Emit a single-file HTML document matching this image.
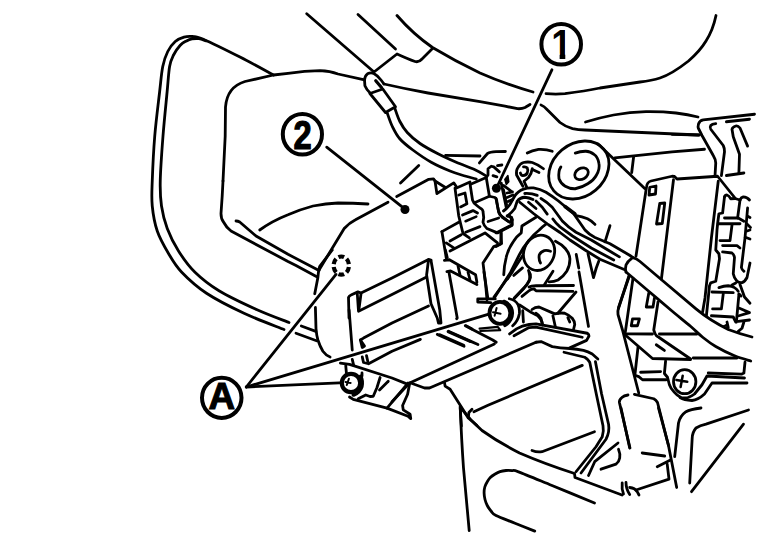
<!DOCTYPE html>
<html><head><meta charset="utf-8"><title>Diagram</title>
<style>
html,body{margin:0;padding:0;background:#fff;}
svg{display:block;}
.l{fill:none;stroke:#000;stroke-width:2.8;stroke-linecap:round;stroke-linejoin:round;}
.t{fill:none;stroke:#000;stroke-width:1.5;stroke-linecap:round;stroke-linejoin:round;}
.w{fill:#fff;stroke:#000;stroke-width:2;stroke-linecap:round;stroke-linejoin:round;}
text{font-family:"Liberation Sans",sans-serif;font-weight:bold;fill:#000;}
</style></head><body>
<svg width="768" height="544" viewBox="0 0 768 544">
<rect width="768" height="544" fill="#fff"/>
<!-- SECTION: outer trim -->
<g class="l">
<path d="M273.50 75.00 C267.92 72.02 251.79 63.10 240.00 57.10 C228.21 51.10 210.62 42.43 202.75 39.00 C194.88 35.57 195.88 36.82 192.75 36.50 C189.62 36.18 186.92 36.27 184.00 37.10 C181.08 37.93 177.96 39.10 175.25 41.50 C172.54 43.90 169.83 47.33 167.75 51.50 C165.67 55.67 164.11 59.75 162.75 66.50 C161.39 73.25 160.93 80.42 159.60 92.00 C158.27 103.58 155.97 121.17 154.75 136.00 C153.53 150.83 152.67 169.33 152.25 181.00 C151.83 192.67 151.42 197.67 152.25 206.00 C153.08 214.33 154.54 223.08 157.25 231.00 C159.96 238.92 164.46 246.67 168.50 253.50 C172.54 260.33 175.17 265.38 181.50 272.00 C187.83 278.62 196.08 286.38 206.50 293.25 C216.92 300.12 231.08 307.21 244.00 313.25 C256.92 319.29 277.33 326.79 284.00 329.50"/>
<path d="M206.00 40.80 C204.83 40.45 201.33 39.02 199.00 38.70 C196.67 38.38 194.08 38.53 192.00 38.90 C189.92 39.27 188.46 39.84 186.50 40.90 C184.54 41.96 182.43 42.86 180.25 45.25 C178.07 47.64 175.18 51.71 173.40 55.25 C171.62 58.79 170.65 60.38 169.60 66.50 C168.55 72.62 168.20 80.42 167.10 92.00 C166.00 103.58 164.14 121.17 163.00 136.00 C161.86 150.83 160.50 169.33 160.25 181.00 C160.00 192.67 160.33 198.08 161.50 206.00 C162.67 213.92 164.42 221.00 167.25 228.50 C170.08 236.00 173.92 243.75 178.50 251.00 C183.08 258.25 188.00 265.38 194.75 272.00 C201.50 278.62 208.71 284.50 219.00 290.75 C229.29 297.00 244.83 304.21 256.50 309.50 C268.17 314.79 283.58 320.33 289.00 322.50"/>
<path d="M364.500 79.800 L338 74 Q330 71 320 70.700 Q305 71 288 73.300 L273.500 75 L245 81.500 Q227 87 225.500 107 L225.200 136 L223 181"/>
</g>
<!-- SECTION: top lines -->
<g class="l">
<path d="M306.7 13.7 L374 72 L397 54 Q408 59 415 61.5 Q419 62.5 422 59 L432.5 48.5"/>
<path d="M358 14.5 L395.5 49"/>
<path d="M397 15.5 Q413 34 432.5 47.5 Q455 61 480 73 Q505 84 533 92"/>
<path d="M546 93.7 Q556 94.5 565 93.7 Q585 91 600 88 L640 82 Q652 80.5 660 78 Q672 74 688.5 61 Q700 51 706 41 Q713 30 716 15.5"/>
<path d="M384 84 Q405 88.800 428 93 L480 101.7 L505 106.2 L517.5 108.7 Q522 109 525 107.5 L530 104.5"/>
<path d="M541 105 Q544 106 547.5 110 L560 122.5 Q566 127 572.5 128.7 Q578 130 585 130 L698.5 135"/>
<path d="M585.5 122 Q598 118 613.5 115 Q630 112 646 111.7 Q662 111.5 676 113 Q688 114.5 698 117"/>
<path d="M754.500 114.250 L703.250 119.900 Q699.500 120.500 698.500 124 Q697.800 127 698.250 128 L702 135.500 L713.250 155.500 Q715.500 159 715.750 163 L715 176"/>
<path d="M749.500 119.250 L726.400 121.750"/>
<path d="M715.750 123.600 Q712 124 710.750 125.500 Q709.500 127.500 710.750 129.250 L723.250 145.500 Q724.500 148 724.500 151.750 L721.400 175.600"/>
<path d="M747.600 146.100 L740 128 Q738 125.500 735.750 126 Q732.500 127 732 129.250 L733.250 136.750 L739.500 154.250 L738.900 173"/>
<path d="M726.400 175.500 L743.900 173"/>
<path d="M672 134.300 L699.500 135"/>
</g>
<!-- SECTION: probe -->
<g class="l">
<path d="M364.500 79.800 Q365 75.500 367.500 73.800 Q370.300 72.400 373.500 73.300 Q377.500 75.500 381.200 80.250 L384 84"/>
<path d="M364.500 79.800 L364.900 85.700 Q366.500 89.500 369.900 92.750"/>
<path d="M369.900 93.500 L382.800 89 L395.500 106.800 L385.500 112.500 Z"/>
<path d="M375.750 80.700 L381.500 87.500" stroke-width="3.200"/>
<path d="M387.25 113.10 C388.08 115.29 390.17 121.97 392.25 126.25 C394.33 130.53 396.38 134.83 399.75 138.75 C403.12 142.67 407.25 145.83 412.50 149.75 C417.75 153.67 425.00 158.71 431.25 162.25 C437.50 165.79 444.38 168.71 450.00 171.00 C455.62 173.29 460.62 174.65 465.00 176.00 C469.38 177.35 474.38 178.58 476.25 179.10"/>
<path d="M394.75 108.10 C395.58 110.29 397.67 117.18 399.75 121.25 C401.83 125.32 403.88 128.79 407.25 132.50 C410.62 136.21 414.96 140.00 420.00 143.50 C425.04 147.00 431.46 150.38 437.50 153.50 C443.54 156.62 450.00 159.54 456.25 162.25 C462.50 164.96 470.00 167.46 475.00 169.75 C480.00 172.04 484.38 174.96 486.25 176.00"/>
</g>
<!-- SECTION: callouts -->
<g class="l">
<ellipse cx="561.200" cy="44.200" rx="19.800" ry="20.300" stroke-width="4"/>
<ellipse cx="302.400" cy="134.300" rx="19.600" ry="20.300" stroke-width="4"/>
<ellipse cx="221.750" cy="397.800" rx="19.750" ry="20.100" stroke-width="4"/>
</g>
<clipPath id="c1"><rect x="552" y="25" width="13.300" height="28.700"/><rect x="559.600" y="53.500" width="5.700" height="6.500"/></clipPath>
<g clip-path="url(#c1)"><text transform="translate(551.300 59.200) scale(0.371 0.4196)" font-size="100">1</text></g>
<text transform="translate(293.400 149.100) scale(0.327 0.408)" font-size="100" stroke="#000" stroke-width="3" stroke-linejoin="miter">2</text>
<text transform="translate(208.450 409.400) scale(0.368 0.3775)" font-size="100" stroke="#000" stroke-width="3" stroke-linejoin="miter">A</text>
<g class="l" stroke-width="2.900">
<path d="M551.900 69.800 L499 181" stroke="#fff" stroke-width="6"/>
<path d="M551.900 69.800 L497 187"/>
<path d="M326.7 147.2 L405 209.2"/>
<path d="M246.300 387 L336 274.400"/>
<path d="M246.300 387 L488 314.300"/>
<path d="M246.300 387 L339.300 382.900"/>
</g>
<circle cx="405" cy="209.5" r="4.5"/>
<circle cx="496.4" cy="188.3" r="4.5"/>
<!-- SECTION: left curves -->
<g class="l">

<path d="M296 333.300 L316.500 340.700"/>

<path d="M301.300 326 L315.800 331.400"/>
<path d="M223 181 L222.2 196 L221 213.5 Q221 219 223.5 222 Q226 227 231 231 L288 261.500 L296 265.500 L317.250 276.900"/>
<path d="M236 221 Q238 221 239.7 222 L256 236 L288 254.300 L319 270.600"/>
<path d="M259.7 230 Q272 221 288 214.7 Q300 209.500 313 206 Q326 203.500 338 203 Q353 203 368 204"/>
</g>
<!-- SECTION: bottom -->
<g class="l">
<path d="M460.300 408 Q461.500 440 463.500 468 L469.200 530.500"/>
<path d="M461 408 Q470 420 482 430.500 Q498 442 519.500 453 Q545 464 574.500 473.500 L575 477.500 L622 495"/>
<path d="M594.50 503.00 C587.42 500.08 564.67 490.68 552.00 485.50 C539.33 480.32 525.17 474.38 518.50 471.90 C511.83 469.42 514.08 470.83 512.00 470.60 C509.92 470.37 508.00 470.33 506.00 470.50 C504.00 470.67 501.88 470.98 500.00 471.60 C498.12 472.23 496.37 473.27 494.75 474.25 C493.13 475.23 491.55 476.25 490.30 477.50 C489.05 478.75 488.17 480.17 487.25 481.75 C486.33 483.33 485.32 485.12 484.80 487.00 C484.28 488.88 484.07 490.92 484.10 493.00 C484.13 495.08 484.48 497.42 485.00 499.50 C485.52 501.58 486.25 503.58 487.25 505.50 C488.25 507.42 489.54 509.33 491.00 511.00 C492.46 512.67 492.00 513.47 496.00 515.50 C500.00 517.53 508.54 520.60 515.00 523.20 C521.46 525.80 531.46 529.78 534.75 531.10"/>
<path d="M532 450.500 Q537 452.500 542 451.700 L594.500 431.700"/>
<path d="M618 443 L594.700 461.700 L588.500 475.500"/>
<path d="M618.500 449.200 Q620.500 454 619.700 458 Q619 462 616 464.200 L601 469.200"/>
<path d="M621 408 L629.700 448"/>
<path d="M658.500 408 L668.500 445.500 L676.700 487.500"/>
<path d="M642.200 453 L664.700 456"/>
<path d="M657.200 466.700 L670.500 460"/>
<path d="M667.200 464.200 L669 479.200 L636 490"/>
<path d="M622.200 483 Q621.500 489 623.500 494"/>
<path d="M626 482.500 Q626 489 629.700 494.500"/>
<path d="M629.700 487.500 Q635 488 637.200 491.700 L639 495"/>
<path d="M701 408 Q690 409.500 686 411.700 Q680 416 678.500 423 L674.700 456.700"/>
<path d="M748.500 410 L706 424.200 Q700 425.500 696 428 Q692.500 432 692.200 438 L689.700 483"/>
<path d="M743.500 424.200 L691.500 491.700"/>
</g>
<!-- SECTION: module top + connector -->
<g class="l">
<path d="M319.2 269.700 L344.200 228.500 Q349 223 355.500 219.700 L388 202.200"/>
<path d="M396.700 196.500 L428.750 179.300 L433.500 178.800 L435 181 L445 187.250"/>
<path d="M435 181 L436.900 193.500 L453.750 182.900 L456.250 186.500"/>
<path d="M400.500 183 L418.750 165.400"/>
<path d="M445.600 155.400 L480 156"/>
<path d="M479.400 162.900 L487.500 153.500 Q490 152 496 151.600 L505.400 151.500"/>
<!-- connector -->
<path d="M455 188.100 L458.750 216 L463 233.500 L469.400 237.900"/>
<path d="M456.500 188 L470 182"/>
<path d="M470 183.700 L472.500 200 Q473.500 203 476.200 205 L480 208 Q483 209.500 483 211.500 L483.700 217.500 L483 222.250 Q484 226 486.900 228.500 L497.500 232.900 L511.900 225.400 L511.250 218.500 L509 215"/>
<path d="M470.600 184.300 L486.250 177.500 L489.400 196.250 L475 202.500"/>
<path d="M486.250 177.500 L488 175 L488 168.750 L491.250 166.250 L493.750 166.900 L499.400 171.900"/>
<path d="M497.500 165.600 L501.900 165"/>
<path d="M493 175.600 L496.900 176.900"/>
<path d="M489.400 196.250 L495 197.500 Q497 199 496.900 202.500 L498.750 212.500 Q499.500 215 502.500 216.900 L508 221.250"/>
<path d="M501.250 183.100 L506.250 207.500"/>
<path d="M504.800 179.400 L507.900 175.500 L508.800 181.800 L506.300 184.500 Z" fill="#000" stroke-width="1.500"/>
<path d="M503.750 185.600 L511 191"/>
<path d="M506.900 193 L512.500 191.900"/>
<path d="M507 197.500 L513 195"/>
<path d="M508 201.500 L512.500 199.500"/>
<path d="M458.750 195 L465 193 L466.900 203.750 L460.600 206.900"/>
<path d="M462.500 215 L473 210.600 L477.500 213"/>
<path d="M465.600 221.250 L476.250 216.600" stroke-width="2.600"/>
<path d="M488 221.600 L498.750 217.900" stroke-width="2.600"/>
<path d="M441.900 231.600 L458.750 222.250"/>
<path d="M441.900 231.600 L446.250 257.900"/>
<path d="M465.600 232.250 L480 226.600"/>
<path d="M450 241 L461.250 234.750"/>
<path d="M446.250 242.900 L453.750 247.900"/>
<path d="M450 251 L485 232.900 L497.500 242.900"/>
<path d="M501.250 232.250 L500.600 244 L493.750 246.600 L483 262.900 L485.600 284 L487 300"/>
<path d="M444.400 260.400 L449.400 259.750 L475.600 274.750 L476.900 282.250"/>
<path d="M446.900 271.600 L450.600 271 L476.900 284.500"/>

<path d="M458 266 L460 274.750"/>
<path d="M468 272.250 L470 279.750"/>
</g>
<!-- SECTION: motor + wires -->
<g class="l">
<ellipse cx="578.800" cy="170" rx="32.600" ry="26.200" transform="rotate(-40 578.800 170)"/>
<path d="M560.900 166.900 Q558 171 559 178.750 Q561 184 565.250 186.250 Q570 189 575.250 188.750 Q582 187.500 587.750 183.750 Q594 180 596.500 175 Q600 169 599 163.750 Q598 157 594 154.400 Q590 151 585.250 151.250 Q580 151.500 575.250 153.100"/>
<ellipse cx="581.500" cy="173.750" rx="7.200" ry="5.400" transform="rotate(-30 581.500 173.750)"/>
<path d="M527.250 153.100 Q532 150.500 538.500 149.400 Q546 149 552.250 151.250"/>
<path d="M597.750 143.750 L644.750 188.500"/>
<path d="M614.750 157.900 L672 151.900 L704.500 149.250"/>
<path d="M633.600 157 L631.700 172.500"/>
<!-- eyelet -->
<path d="M522.900 186.250 L516.600 175 Q516 170 517.900 167.500 Q520 163.500 523.500 162.500 Q528 161.500 532.250 162.500 Q538 164.500 543.500 168.750"/>
<path d="M520.400 173 Q521 175.500 522.900 175.600 Q526 175.500 527.250 173 Q528.500 170 527.250 168 Q526 166.500 523.500 166.900"/>
<path d="M532.250 168.750 Q531.500 174 528.500 177.500 L524 181.250 L526.600 186.900"/>
<path d="M533.500 170 L539 172.500"/>
<!-- wires -->
<path d="M503.500 211 Q507 208.500 509.750 204.750 L514.750 196 Q518 191 523.500 189.100 Q528 187.500 533.500 187.900 Q540 189 546 192.250 Q552 196 558.500 201 L573.500 213.500 L585 230 Q589 234.500 595 237.500 L610 243.750 L630 255.500 L633 257.700"/>
<path d="M565 206.500 L575 214" stroke-width="3.500"/>
<path d="M507.250 216 Q512 212.500 514.750 208.500 L517.250 201 Q520 197.500 524.750 197.250 Q529 197.500 533 199.500"/>
<path d="M524.750 193.500 Q531 193 537.250 195.400"/>
<path d="M541 198.500 Q547 202 552.250 207.250 L562.250 221 Q568 227 576 232.250 L591.250 240 L610 251.250 L619.400 256.900"/>
<path d="M536 201 L542.250 207.250 L547.250 214.100"/>
<path d="M528.500 202.250 L536 208.500"/>
<path d="M552.900 219 Q556 223.500 560 226.900 L572.500 236 L591.250 248 L613.750 260"/>
<path d="M519.750 202.250 L533.500 213.500 L548.500 224.750 L560 232.500 L570 240 L585 250 L600 259.300 L624.800 269.800"/>
<path d="M576.250 215.600 Q582 216.500 587.500 218.750 Q592 221 595 224.400"/>
<path d="M610 225.600 L605 241.900"/>
<!-- clip right hatch -->
<path d="M503.500 189.750 L506.600 204.750"/>
<path d="M496 198.500 L498.500 211 Q500 215 502.250 217.250 L509.750 222.250 L512.250 219.750 L511.600 217.250 L507.250 216"/>
<path d="M496 232.900 L512.250 224.750 L512.250 219.750"/>
<path d="M501 233.500 L501.600 243.500 L496 246.600"/>
<!-- arcs below -->
<path d="M536 217.250 L521.900 226 L521.250 232.900 Q516 237 513.750 241 Q508 249 506.250 257.250 Q504 266 503.750 274.750"/>
<path d="M546 224.100 Q542 227 539.250 230 Q533 235 529.250 240 Q523 247.500 519.250 255 L510.500 272.500 L494.250 298"/>
<ellipse cx="539" cy="253" rx="15.200" ry="18" transform="rotate(22 539.500 253)"/>
<path d="M550.500 251.250 Q547 250 544.250 250.600 Q540.500 252 539.250 255 Q538.500 259.500 540.500 263"/>
<path d="M513.750 275.400 L522.500 267.900"/>
<path d="M522.700 255.500 L512 272.300 L507.500 279"/>
<path d="M528.500 270.500 Q531 274 530.500 277.500 Q529.500 281.500 526.750 285 L514.250 298"/>
<path d="M555.500 241.250 Q562 244.500 565.500 248.750 Q569.500 253.500 569.900 258.750 Q570 265.500 566.750 271.250 Q563.500 276.500 558 280 Q554 281.800 549.250 281.900"/>
<path d="M576.250 254.400 L578.750 268"/>
<path d="M588 253.750 L591.250 268 L593.500 277.600 L596.250 268 L598.750 261.250"/>
</g>
<!-- SECTION: box + right connector -->
<g class="l">
<path d="M636 256 L646.500 187 Q647 182 651 181 L672 176.250 L674.500 176.500 L677 179 L717.600 176.250 L735 198"/>
<path d="M673.500 179.750 L662.250 272 L661.400 279"/>
<path d="M718.250 181.250 L711.400 238 L705 298 L702.600 312"/>
<path d="M649.750 187.250 L656 186 L655.500 194 L649 195 Z"/>
<path d="M659.750 203.500 L664.750 203 L662.250 223.500 L656.500 224 Z"/>
<path d="M724.500 196.900 Q725 195 727 195 Q729 195.500 730.750 198.750 L735 198.500 L740 200"/>
<path d="M724.500 196.900 L722.600 213 L718.900 213.750 L717.600 223.750 L717 230 L715.750 250 L718.900 253.750 L719.500 258.750 L715.750 281.250 L710.750 282.800 L709.500 285.750 L706.400 315.750"/>
<path d="M724.500 218 L738.250 218 L743.900 221.250"/>
<path d="M718.250 223.750 L740 223.750"/>
<path d="M740 200 L737.600 218"/>
<path d="M740 200 Q741 197.500 743.250 196.900 Q747 197 749.500 200"/>
<path d="M747.600 208 L745 238 L741.400 267.500 Q742 270 743.900 271.250"/>
<path d="M747.600 216.250 L750 217.500"/>
<path d="M747 224 L750.500 227.500"/>
<path d="M747 231 L750 230"/>
<path d="M746 237.500 L750 239"/>
<path d="M732 225 L730 240.600 L720 240.600"/>
<path d="M722.600 245.600 L737 245.600 L740 248"/>
<path d="M722.600 251.900 L732 253 Q734 254.500 734.500 257.500 L733.250 273.750 Q734 278 737 281.250 Q739.500 283 742 282.600 Q745 281.500 747 277.500 L750 263"/>
<path d="M718.900 287.600 Q724 286 728.250 285.750 Q732 286 734.500 287.600 Q737 289 738.250 291.400"/>
<path d="M712 292 L733.250 292.600"/>
<path d="M732 285 L735.750 283"/>
<path d="M723.250 293.900 L721.400 308.900 L712.600 308.900"/>
<path d="M711.400 315.750 L733.250 317 L735.750 322"/>
<path d="M738.900 294.500 L736.400 322"/>
<path d="M740 284.500 L744.500 297 L750 303.250"/>
<path d="M739.500 308.250 L749.500 312.600 L738.900 315.750"/>
<path d="M738.250 321.400 L749.500 320"/>
<path d="M727 322 L728.250 327.600"/>
<path d="M743.900 322 L742 328.250 L738.250 331.400"/>
<path d="M723.500 325.800 L727 324 L727.600 327.300 Z" fill="#000" stroke-width="1"/>
<path d="M739 294 L741 296" stroke-width="3"/>
</g>
<!-- SECTION: lower right -->
<g class="l">
<path d="M633 257.700 Q636.500 258.600 640 261.500 L661.250 279.500 L696 308.900 Q710 320.500 728.250 329.500 Q740 334 752 337"/>
<path d="M632 258.200 Q627.500 261.500 626 265 Q625 268.500 626 272"/>
<path d="M626.00 272.00 C629.83 275.25 641.33 285.00 649.00 291.50 C656.67 298.00 665.08 305.20 672.00 311.00 C678.92 316.80 685.33 321.88 690.50 326.30 C695.67 330.72 698.79 334.13 703.00 337.50 C707.21 340.87 710.50 343.45 715.75 346.50 C721.00 349.55 728.67 353.38 734.50 355.80 C740.33 358.22 748.04 360.13 750.75 361.00"/>
<path d="M629.400 275.750 L618.750 307 Q617.500 311 618 314.500 L622.500 330 L638.750 393"/>
<path d="M633 278.250 L625.600 330 L625 334"/>
<path d="M648.750 293.250 L646.250 307 L653 307 L654.400 298.250"/>
<path d="M658 302 L653.750 330 L655 333.500 Q656 336 658.750 337.250 L690.600 359"/>
<path d="M632.500 318.900 L639.400 318.900 L637.500 325.750 L631.250 325.750 Z"/>
<path d="M626.900 333.800 L652.500 334"/>
<path d="M659.400 334 L697 334"/>
<path d="M625 334.750 L652.500 358.500 L690.600 359.500"/>
<path d="M656.250 344.750 L664.400 350.400" stroke-width="2.800"/>
<path d="M638 347.250 L635 374"/>
<path d="M640.600 372.250 L660.600 371.600"/>
<path d="M635 375.400 L638.750 376.600 L642.500 379.750 L666.250 379.750"/>
<path d="M665.600 361 L664.400 373.500 L667.500 377.250 L669.400 384.750 Q671 389 673.750 391.600 Q677 395.500 681 397.500 Q685 398.500 688 397.500 Q692 396 694.500 394 L702 384.750 L707 376 L744.500 378"/>
<ellipse cx="684.700" cy="381.700" rx="11.200" ry="12"/>
<path d="M676.400 380 L687.250 381.700 M682.700 375.800 L680.600 387.100" stroke-width="2.500"/>
<path d="M693.250 358 L737 358"/>
<path d="M745 362.250 L743.900 373 L741.400 374.200 L708.250 373"/>
<path d="M747 383 L712 383 L704.500 394 Q698 400 692 400.500 Q684 400 680 397.500"/>
<path d="M628 395 Q624 395.500 621.900 397.500 Q619 400 619.400 402.500 L630 448"/>
<path d="M634.400 394.400 L653.750 398.750 Q656 400 657.500 402.500 L668.500 445.500"/>
</g>
<!-- SECTION: center bottom: screw, bracket -->
<g class="l">
<ellipse cx="499.900" cy="312.900" rx="10.400" ry="11" stroke-width="3.800"/>
<path d="M504 301.500 Q512 305 512.300 313 Q512 321 505 325.300" stroke-width="3.600"/>
<path d="M509.300 298.750 Q515.500 300 518 304.500 Q520 309 519.300 314 Q518 321 512.700 325.800"/>
<path d="M493 312.200 L500.600 313.750 M496.600 307.900 L494.600 315.800" stroke-width="2"/>
<path d="M519.600 305 L531.500 312.600 L537.750 315.750 Q541 319 542 322 L542.500 325"/>
<path d="M522.750 310.750 L523.400 322"/>
<path d="M532 309.500 Q535 307 539 307 L554.750 313.900 Q560 312.500 564.750 313.250 Q569 315 572.250 318.250 Q574.500 321 574.750 324.500 L573.500 329.500"/>
<path d="M552.900 315.750 L555.400 327"/>
<path d="M567.900 317.600 L569.750 322"/>
<path d="M536 313.250 Q539 315 541 318.250 L542.250 323.900"/>
<path d="M477.750 298.900 L495.250 298.900 M477.750 298.900 L477.750 302 L490.900 302.600"/>
<path d="M484 272 L487.750 297.600"/>
<path d="M494 297 L512 272"/>
<path d="M514 298.900 L524 288.250 Q528 283 529.600 279.500 Q530 276 529 272"/>
<path d="M522 296.400 L529 290.750 Q531 289 534 288.900 L536 290.750 L572.900 291.400"/>
<path d="M529 287 Q531 285.800 536 285.750 L573.500 285.500"/>
<path d="M544.250 285 L553 271.250"/>
<path d="M576 292 L557.900 313.250"/>
<path d="M579 272 L588.500 326.400"/>
<!-- leader end handled in callouts -->
<path d="M465.250 325.750 L492.750 340 L496.250 342.250"/>
<path d="M479.600 328.700 L497.750 326.800 L500.250 330.200 L480.250 331" stroke-width="2.200"/>
<path d="M509.600 333.900 L516.500 328.900 Q522 325.500 529 324.500 L536 323.900 L587.250 333.250 Q589 334.500 589 336 L586.600 340.400 L569.750 347.900"/>
<path d="M514 335.750 L529 327.600 L536 327.200 L582.250 337.250"/>
<path d="M536 342.250 L541 341.600 Q546 344 552.250 346.600 Q560 348 569.750 348.500 Q577 349 583.500 350.400 Q588 351.500 592.250 354 L597.900 359"/>
<path d="M564 352.250 L584.750 357.250 Q588 359 589.750 362.250 L591.750 372 L596.300 394 L603 425.750 Q604 431 602.250 436.750 L596 446.750 L576 471.750"/>
<path d="M595.400 361.600 L597.400 372 L601.600 394 L608.600 424.500 Q609.800 432 606 439.250 L581 473"/>
<path d="M448 331.600 L470.600 341.600"/>
<path d="M440 334.750 L463.750 345.400"/>
<path d="M629 275.750 L618.500 308.250"/>
<!-- left things in lower-right tile -->
</g>
<!-- SECTION: module body -->
<g class="l">
<path d="M332.250 250 L319.750 266.250 Q318.500 270 317.900 277.500 L314.750 293.750"/>
<path d="M315.400 307.500 L316 328.750 Q316.500 335 317.900 340 Q320 346.500 322.900 351.250 Q326 355.500 330.100 357"/>
<path d="M349 318 L348.500 297.500 Q349 295.800 351 295 L357.900 291.900 L361 293 L392 278 L428.500 259.400 L431 260"/>
<path d="M357.250 293 L358.500 311.250 L392 294.400 L426.600 276.900"/>
<path d="M361 293.750 L359 308.750"/>
<path d="M428.500 260 L426.600 275 L431 303.750 L437.250 318 L438.500 323.100 L441 323.100 L439.750 310 L431 260.600"/>
<path d="M349.100 310 L352.250 350"/>
<path d="M360.400 340 L363.500 338.100 L392 323.100 L428.500 306"/>
<path d="M360.400 340 L362.250 347.500 L364.500 346 Z" fill="#000"/>
<path d="M362.250 356.900 L363.500 362.500 L368.500 363.750 L392 351.250 L420.400 339.400"/>
<path d="M366.500 355.600 L367.800 361.500"/>
<path d="M340.400 363.100 L349.500 364.400 L392 378 L408 384.400 L410.750 382.400 L494.400 344"/>
<path d="M352.250 359.400 L353.700 365.300"/>
<path d="M345.750 365.600 L346.400 373"/>
<path d="M362 373 L362 376"/>
<path d="M449.100 273 L457.250 318 L456.600 318.750"/>
<path d="M445.400 250 L447.250 257.500"/>
<path d="M437.250 334.400 L464.100 346.250"/>
<path d="M448.500 331.250 L472 341.900 L478 344.500"/>
<path d="M466 325.600 L472 329"/>
<!-- screw A -->
<circle cx="351" cy="383" r="9.200" stroke-width="4.200"/>
<path d="M360.500 376.500 Q362.800 381 361.600 386.500 Q359.500 392.500 353.500 394.800" stroke-width="4"/>
<path d="M345.600 382.100 L350.600 382.900 M348.900 378.750 L346.800 385" stroke-width="2"/>
<path d="M380.100 377.500 L377 387.500 L373.250 396.250 L370 396.500 L365.750 395 L358.250 398.750"/>
<path d="M379.500 390 L388.250 381.250"/>
<path d="M387 408.100 L408 383.100"/>
<path d="M349.500 397 L353.250 399.400 L387 408.100 L408 416.250 L410.750 418.600 L410.100 414.250 L403.250 409.900 L402.600 405.500 L407.600 394.250 L409.500 384.250"/>
<path d="M392 401.750 L409.500 383"/>
<path d="M410.750 383 L424.500 388 L429.500 388 L536 342.250"/>
<path d="M444.500 382.400 L445.100 386.100 L450.100 389.250 L462 408 L468.250 418 L477 425.500"/>
<path d="M460.100 406.750 L461.400 426"/>
<path d="M472 409.250 L468.900 412.400 L468.500 416"/>
<path d="M473.900 411.750 L488 405.300 L513.750 394.300 L582.250 365.400"/>
</g>
<!-- dashed circle -->
<ellipse cx="341.300" cy="265.600" rx="7.700" ry="9.100" fill="none" stroke="#000" stroke-width="4.200" pathLength="60" stroke-dasharray="6.600 3.400" stroke-dashoffset="8.300"/>
<!-- SECTION: more -->
</svg>
</body></html>
